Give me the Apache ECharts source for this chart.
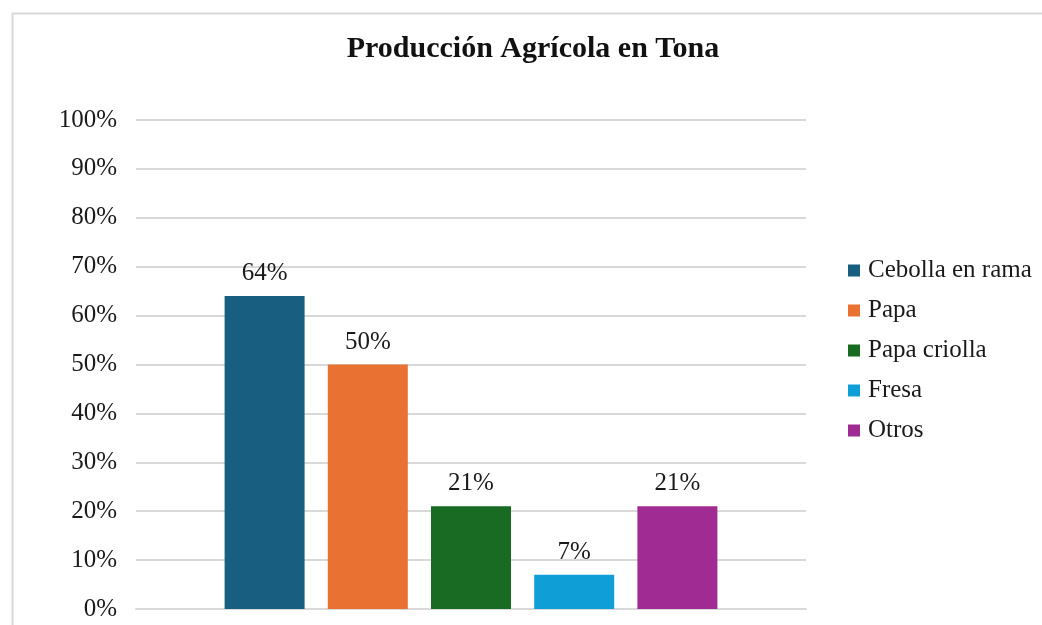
<!DOCTYPE html>
<html>
<head>
<meta charset="utf-8">
<script src="https://cdn.jsdelivr.net/npm/echarts@6/dist/echarts.min.js"></script>
<style>
  html, body { margin: 0; padding: 0; background: #ffffff; }
  #chart { width: 1042px; height: 625px; }
</style>
</head>
<body>
<div id="chart"></div>
<script>
// Crop shares of agricultural production (percent)
const categories = ['Cebolla en rama', 'Papa', 'Papa criolla', 'Fresa', 'Otros'];
const values = [64, 50, 21, 7, 21];
const colors = ['#175E81', '#E97132', '#196B24', '#0F9ED5', '#A02B93'];
const yTicks = [0, 10, 20, 30, 40, 50, 60, 70, 80, 90, 100];

const serif = '"Liberation Serif", "Times New Roman", serif';

const chart = echarts.init(document.getElementById('chart'), null, { renderer: 'canvas' });

const series = categories.map((name, i) => ({
  name: name,
  type: 'bar',
  data: [values[i]],
  barWidth: 80,
  barGap: '29%',
  itemStyle: { color: colors[i] },
  label: {
    show: true,
    position: 'top',
    distance: 10,
    formatter: p => Math.round(p.value) + '%',
    fontFamily: serif,
    fontSize: 25,
    color: '#1a1a1a'
  },
  emphasis: { disabled: true }
}));

chart.setOption({
  animation: false,
  backgroundColor: '#ffffff',
  graphic: [{
    type: 'rect',
    left: 10,
    top: 11,
    shape: { width: 1200, height: 800 },
    style: { fill: 'none', stroke: '#d9d9d9', lineWidth: 2 },
    silent: true
  }],
  title: {
    text: 'Producción Agrícola en Tona',
    left: 528,
    textAlign: 'center',
    top: 29,
    textStyle: { fontFamily: serif, fontSize: 30, fontWeight: 'bold', color: '#111111' }
  },
  legend: {
    orient: 'vertical',
    left: 843,
    top: 253,
    itemWidth: 12,
    itemHeight: 12,
    itemGap: 15,
    icon: 'rect',
    textStyle: { fontFamily: serif, fontSize: 25, color: '#1a1a1a', padding: [0, 0, 0, 3] },
    data: categories
  },
  grid: {
    left: 136,
    right: 236,
    top: 120,
    bottom: 16,
    containLabel: false
  },
  xAxis: {
    type: 'category',
    data: [''],
    axisLine: { show: true, lineStyle: { color: '#d9d9d9', width: 2 } },
    axisTick: { show: false },
    axisLabel: { show: false }
  },
  yAxis: {
    type: 'value',
    min: yTicks[0],
    max: yTicks[yTicks.length - 1],
    interval: 10,
    axisLine: { show: false },
    axisTick: { show: false },
    axisLabel: {
      formatter: v => v + '%',
      fontFamily: serif,
      fontSize: 25,
      color: '#1a1a1a',
      margin: 19
    },
    splitLine: { lineStyle: { color: '#d9d9d9', width: 2 } }
  },
  series: series
});
</script>
</body>
</html>
